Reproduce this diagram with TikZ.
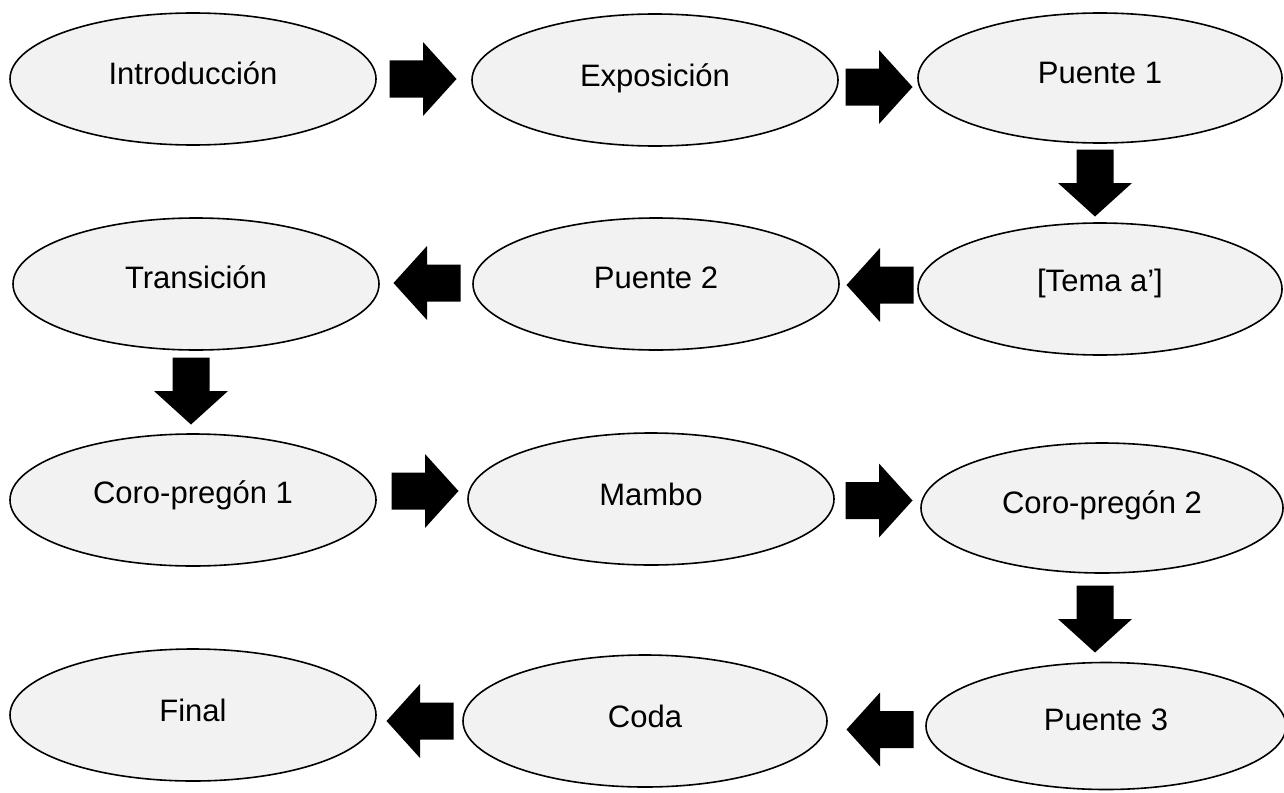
\documentclass[tikz,border=0pt]{standalone}
\usepackage{fontspec}
\setmainfont{Liberation Sans}
\usetikzlibrary{shapes.geometric}
\definecolor{ellfill}{HTML}{F2F2F2}
\begin{document}
\begin{tikzpicture}[x=1pt,y=-1pt,
  ell/.style={ellipse, draw=black, line width=1.6pt, fill=ellfill, inner sep=0pt, outer sep=0pt, minimum width=366pt, minimum height=132pt},
  lbl/.style={anchor=base, inner sep=0pt, font=\fontsize{31}{37}\selectfont},
  blockarrow/.pic={\fill[black] (-33.5,-18.5) -- (0,-18.5) -- (0,-37) -- (33.5,0) -- (0,37) -- (0,18.5) -- (-33.5,18.5) -- cycle;}
]
\useasboundingbox[fill=white] (0,0) rectangle (1284,792);

% ellipses
\node[ell] (intro) at (193,79) {};
\node[ell] (expo)  at (655,80) {};
\node[ell, minimum width=364pt, minimum height=130pt] (p1) at (1100,78) {};
\node[ell] (trans) at (196,284) {};
\node[ell] (p2)    at (656,284) {};
\node[ell, minimum width=364pt] (tema) at (1100,289) {};
\node[ell] (coro1) at (193,500) {};
\node[ell] (mambo) at (651,499) {};
\node[ell, minimum width=362pt, minimum height=130pt] (coro2) at (1102,508) {};
\node[ell] (final) at (193,715) {};
\node[ell, minimum width=364pt] (coda) at (645,721) {};
\node[ell, minimum width=360pt, minimum height=127pt] (p3) at (1106,726) {};

% labels
\node[lbl] (intro-t) at ([yshift=-5.7pt]intro.center) {Introducción};
\node[lbl] (expo-t)  at ([yshift=-6pt]expo.center) {Exposición};
\node[lbl] (p1-t)    at ([yshift=-5pt]p1.center) {Puente 1};
\node[lbl] (trans-t) at ([yshift=-4pt]trans.center) {Transición};
\node[lbl] (p2-t)    at ([yshift=-4pt]p2.center) {Puente 2};
\node[lbl] (tema-t)  at ([yshift=-2pt]tema.center) {[Tema a’]};
\node[lbl] (coro1-t) at ([yshift=-3pt]coro1.center) {Coro-pregón 1};
\node[lbl] (mambo-t) at ([yshift=-6pt]mambo.center) {Mambo};
\node[lbl] (coro2-t) at ([yshift=-5pt]coro2.center) {Coro-pregón 2};
\node[lbl] (final-t) at ([yshift=-6pt]final.center) {Final};
\node[lbl] (coda-t)  at ([yshift=-6pt]coda.center) {Coda};
\node[lbl] (p3-t)    at ([yshift=-4pt]p3.center) {Puente 3};

% block arrows
\coordinate (a1) at (423,79);
\coordinate (a2) at (879,87);
\coordinate (a3) at (1095,183);
\coordinate (a4) at (880,285);
\coordinate (a5) at (427,283);
\coordinate (a6) at (191,391);
\coordinate (a7) at (425,491);
\coordinate (a8) at (879,500.5);
\coordinate (a9) at (1095,619);
\coordinate (a10) at (880,729.5);
\coordinate (a11) at (420,721);

\pic at (a1) {blockarrow};
\pic at (a2) {blockarrow};
\pic[rotate=-90] at (a3) {blockarrow};
\pic[rotate=180] at (a4) {blockarrow};
\pic[rotate=180] at (a5) {blockarrow};
\pic[rotate=-90] at (a6) {blockarrow};
\pic at (a7) {blockarrow};
\pic at (a8) {blockarrow};
\pic[rotate=-90] at (a9) {blockarrow};
\pic[rotate=180] at (a10) {blockarrow};
\pic[rotate=180] at (a11) {blockarrow};
\end{tikzpicture}
\end{document}
